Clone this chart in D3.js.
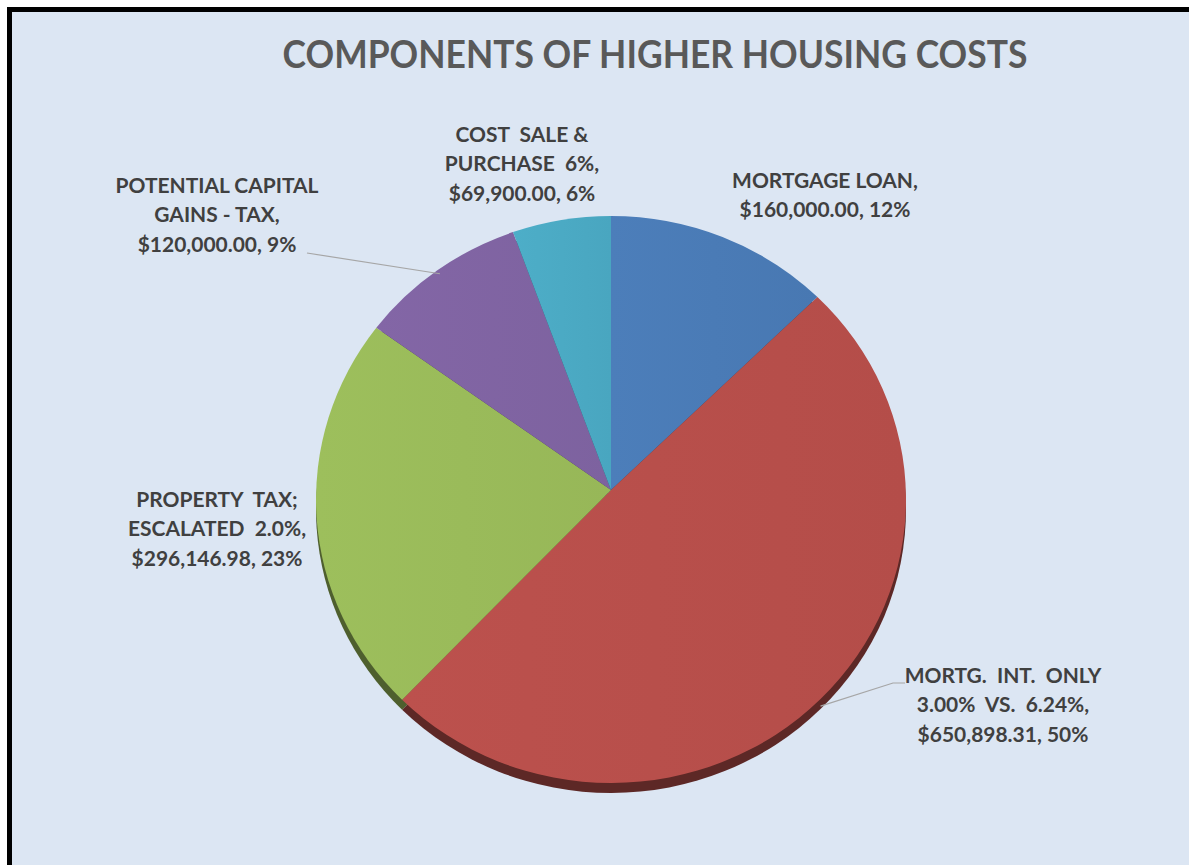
<!DOCTYPE html>
<html>
<head>
<meta charset="utf-8">
<script src="https://cdn.jsdelivr.net/npm/d3@7"></script>
<style>
  html, body { margin: 0; padding: 0; background: #ffffff; }
  svg { display: block; }
  text { white-space: pre; }
</style>
</head>
<body>
<svg id="chart" width="1189" height="865"></svg>
<script>
// Cost components (USD)
const categories = [
  "MORTGAGE LOAN",
  "MORTG.  INT.  ONLY 3.00%  VS.  6.24%",
  "PROPERTY  TAX; ESCALATED  2.0%",
  "POTENTIAL CAPITAL GAINS - TAX",
  "COST  SALE & PURCHASE  6%"
];
const values = [160000.00, 650898.31, 296146.98, 120000.00, 69900.00];
const colors = ["#4a7bb6", "#b84f4b", "#9abb5a", "#8064a2", "#4baac4"];
// Label text, one array of lines per slice (value and share are appended)
const labelHead = [
  ["MORTGAGE LOAN,"],
  ["MORTG.  INT.  ONLY", "3.00%  VS.  6.24%,"],
  ["PROPERTY  TAX;", "ESCALATED  2.0%,"],
  ["POTENTIAL CAPITAL", "GAINS - TAX,"],
  ["COST  SALE &", "PURCHASE  6%,"]
];
const title = "COMPONENTS OF HIGHER HOUSING COSTS";

const W = 1189, H = 865;
const svg = d3.select("#chart");

// background panel and frame
svg.append("rect").attr("x", 0).attr("y", 0).attr("width", W).attr("height", H).attr("fill", "#ffffff");
svg.append("rect").attr("x", 9.5).attr("y", 9.5).attr("width", W + 20).attr("height", H + 20)
  .attr("fill", "#dce6f3").attr("stroke", "#000000").attr("stroke-width", 5);

// pie geometry: slightly tilted disc with a visible rim
const cx = 611, cy = 499.5, rx = 295, ry = 283.5, apexY = 490, depth = 10;
const pt = (a, dy = 0, k = 1) => [cx + rx * k * Math.sin(a), cy + dy - ry * k * Math.cos(a)];

const pie = d3.pie().sort(null).value(d => d.value);
const data = values.map((v, i) => ({ value: v, name: categories[i], color: colors[i], head: labelHead[i] }));
const arcs = pie(data);
const total = d3.sum(values);

// whole-percent shares that add up to 100 (largest remainder)
const raw = values.map(v => v / total * 100);
const pct = raw.map(Math.floor);
let short = 100 - d3.sum(pct);
d3.range(values.length).sort((a, b) => (raw[b] - pct[b]) - (raw[a] - pct[a]))
  .forEach(i => { if (short > 0) { pct[i] += 1; short -= 1; } });

function slicePath(d, dy) {
  const p0 = pt(d.startAngle, dy), p1 = pt(d.endAngle, dy);
  const large = (d.endAngle - d.startAngle) > Math.PI ? 1 : 0;
  return `M${cx},${apexY + dy}L${p0[0]},${p0[1]}A${rx},${ry} 0 ${large} 1 ${p1[0]},${p1[1]}Z`;
}

const defs = svg.append("defs");
arcs.forEach((d, i) => {
  const g = defs.append("linearGradient").attr("id", "face" + i)
    .attr("x1", "0").attr("y1", "0").attr("x2", "1").attr("y2", "0");
  const c = d3.color(d.data.color);
  g.append("stop").attr("offset", "0%").attr("stop-color", c.brighter(0.06));
  g.append("stop").attr("offset", "100%").attr("stop-color", c.darker(0.06));
});

const gPie = svg.append("g");
// rim (drawn below the top faces)
gPie.selectAll("path.rim").data(arcs).join("path").attr("class", "rim")
  .attr("d", d => slicePath(d, depth))
  .attr("fill", d => d3.color(d.data.color).darker(1.9));
// top faces
gPie.selectAll("path.face").data(arcs).join("path").attr("class", "face")
  .attr("d", d => slicePath(d, 0))
  .attr("fill", (d, i) => `url(#face${i})`);

// text helper: font sized by cap height, then squeezed horizontally to a target width
const fontFam = "Lato, 'Open Sans', 'DejaVu Sans', sans-serif";

// title
const titleSize = 39;
const tTitle = svg.append("text").attr("text-anchor", "middle")
  .attr("font-family", fontFam).attr("font-weight", 700)
  .attr("font-size", titleSize).attr("fill", "#595959").text(title);
const tw = tTitle.node().getComputedTextLength();
tTitle.attr("transform", `translate(655,68) scale(${745 / tw},1)`);

// data labels
const fmtMoney = v => "$" + d3.format(",.2f")(v);
const labelPos = [
  { x: 825, y: 188 },
  { x: 1003, y: 683 },
  { x: 217, y: 507 },
  { x: 217, y: 193 },
  { x: 522, y: 142 }
];
const lineGap = 29.5;
const labelSize = 21;
const gLab = svg.append("g").attr("font-family", fontFam).attr("font-weight", 700)
  .attr("fill", "#404040").attr("font-size", labelSize);

const probe = gLab.append("text").text("MORTGAGE LOAN,");
const sx = 186 / probe.node().getComputedTextLength();
probe.remove();

arcs.forEach((d, i) => {
  const lines = d.data.head.concat([fmtMoney(d.data.value) + ", " + pct[i] + "%"]);
  const t = gLab.append("text").attr("text-anchor", "middle")
    .attr("transform", `translate(${labelPos[i].x},${labelPos[i].y}) scale(${sx},1)`);
  lines.forEach((s, j) => {
    t.append("tspan").attr("x", 0).attr("y", j * lineGap).text(s);
  });
});

// leader lines to the slices
const mid = d => (d.startAngle + d.endAngle) / 2;
const leaders = [
  { i: 3, pts: [[307, 253]], k: 0.985, dy: 0 },
  { i: 1, pts: [[905, 683], [893, 683]], k: 1, dy: 7 }
];
leaders.forEach(l => {
  const end = pt(mid(arcs[l.i]), l.dy, l.k);
  svg.append("path").attr("d", d3.line()(l.pts.concat([end])))
    .attr("fill", "none").attr("stroke", "#a6a6a6").attr("stroke-width", 1.2);
});
</script>
</body>
</html>
